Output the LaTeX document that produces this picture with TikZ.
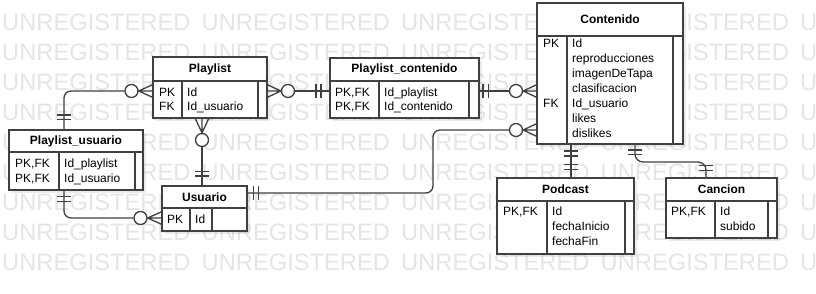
\documentclass[tikz,border=0pt]{standalone}
\usepackage{fontspec}
\setmainfont{Liberation Sans}
\usetikzlibrary{shadows}
\definecolor{linec}{RGB}{64,64,64}
\definecolor{wmark}{RGB}{229,229,229}
\begin{document}
\begin{tikzpicture}[x=1pt,y=-1pt,
  ln/.style={draw=linec,line width=1.3pt},
  tbl/.style={rectangle,draw=linec,line width=1.3pt,fill=white,inner sep=0pt,outer sep=0pt,anchor=north west,
    drop shadow={shadow xshift=3pt,shadow yshift=-3pt,fill=black,opacity=0.08}},
  hdr/.style={font=\fontsize{12}{14}\selectfont\bfseries,inner sep=0pt},
  fld/.style={font=\fontsize{12}{14}\selectfont,anchor=base west,inner sep=0pt},
  ring/.style={circle,draw=linec,line width=1.3pt,fill=white,minimum size=13pt,inner sep=0pt},
  wm/.style={font=\fontsize{23.7}{28}\selectfont,text=wmark,anchor=base west,inner sep=0pt}]

\useasboundingbox[fill=white] (0,0) rectangle (816,293);
\clip (0,0) rectangle (816,293);

% background watermark rows
\foreach \r in {0,...,8}{
  \foreach \c in {0,...,4}{
    \node[wm] (wm-\r-\c) at (2+199.5*\c, 30+30*\r) {UNREGISTERED};
  }
}

% ---------- tables ----------
\node[tbl,minimum width=114pt,minimum height=61pt] (playlist) at (153,57) {};
\node[tbl,minimum width=149pt,minimum height=60pt] (plcont) at (330,58) {};
\node[tbl,minimum width=146pt,minimum height=141pt] (contenido) at (537,3) {};
\node[tbl,minimum width=134pt,minimum height=60pt] (plusr) at (9,130) {};
\node[tbl,minimum width=85pt,minimum height=45pt] (usuario) at (162,186) {};
\node[tbl,minimum width=137pt,minimum height=76pt] (podcast) at (497,178) {};
\node[tbl,minimum width=111pt,minimum height=60pt] (cancion) at (666,178) {};

% header separators and column dividers
\draw[ln] (playlist.west |- 0,81) -- (playlist.east |- 0,81)
          (182,81) -- (playlist.south -| 182,0) (258,81) -- (playlist.south -| 258,0);
\draw[ln] (plcont.west |- 0,81) -- (plcont.east |- 0,81)
          (379,81) -- (plcont.south -| 379,0) (469,81) -- (plcont.south -| 469,0);
\draw[ln] (contenido.west |- 0,36) -- (contenido.east |- 0,36)
          (567,36) -- (contenido.south -| 567,0) (673,36) -- (contenido.south -| 673,0);
\draw[ln] (plusr.west |- 0,152) -- (plusr.east |- 0,152)
          (59,152) -- (plusr.south -| 59,0) (135,152) -- (plusr.south -| 135,0);
\draw[ln] (usuario.west |- 0,208) -- (usuario.east |- 0,208)
          (190,208) -- (usuario.south -| 190,0) (212,208) -- (usuario.south -| 212,0);
\draw[ln] (podcast.west |- 0,201) -- (podcast.east |- 0,201)
          (547,201) -- (podcast.south -| 547,0) (625,201) -- (podcast.south -| 625,0);
\draw[ln] (cancion.west |- 0,201) -- (cancion.east |- 0,201)
          (715,201) -- (cancion.south -| 715,0) (768,201) -- (cancion.south -| 768,0);

% headers
\node[hdr] (playlist-h) at (210,69) {Playlist};
\node[hdr] (plcont-h) at (404.5,69.5) {Playlist\_contenido};
\node[hdr] (contenido-h) at (610,19.5) {Contenido};
\node[hdr] (plusr-h) at (76,141) {Playlist\_usuario};
\node[hdr] (usuario-h) at (204.5,197) {Usuario};
\node[hdr] (podcast-h) at (565.5,189.5) {Podcast};
\node[hdr] (cancion-h) at (721.5,189.5) {Cancion};

% fields
\node[fld] (pl-k1) at (159,96) {PK};
\node[fld] (pl-k2) at (159,110.5) {FK};
\node[fld] (pl-a1) at (187,96) {Id};
\node[fld] (pl-a2) at (187,110.5) {Id\_usuario};

\node[fld] (pc-k1) at (335,96) {PK,FK};
\node[fld] (pc-k2) at (335,110.5) {PK,FK};
\node[fld] (pc-a1) at (384,96) {Id\_playlist};
\node[fld] (pc-a2) at (384,110.5) {Id\_contenido};

\node[fld] (co-k1) at (543,47) {PK};
\node[fld] (co-k2) at (543,107.3) {FK};
\foreach \t [count=\i from 0] in {Id,reproducciones,imagenDeTapa,clasificacion,Id\_usuario,likes,dislikes}{
  \node[fld] (co-a\i) at (572,47+15.05*\i) {\t};
}

\node[fld] (pu-k1) at (15,167.6) {PK,FK};
\node[fld] (pu-k2) at (15,182.6) {PK,FK};
\node[fld] (pu-a1) at (64,167.6) {Id\_playlist};
\node[fld] (pu-a2) at (64,182.6) {Id\_usuario};

\node[fld] (us-k1) at (167,223.5) {PK};
\node[fld] (us-a1) at (195,223.5) {Id};

\node[fld] (po-k1) at (503,215) {PK,FK};
\node[fld] (po-a1) at (552,215) {Id};
\node[fld] (po-a2) at (552,230.2) {fechaInicio};
\node[fld] (po-a3) at (552,245.4) {fechaFin};

\node[fld] (ca-k1) at (671,215) {PK,FK};
\node[fld] (ca-a1) at (720,215) {Id};
\node[fld] (ca-a2) at (720,230.2) {subido};

% ---------- relationships ----------
% Playlist_usuario -- Playlist
\node[ring] (r1) at (131.5,91) {};
\draw[ln,rounded corners=7] (r1.west) -| (plusr.north -| 64,0);
\draw[ln] (57,115) -- (71,115) (57,119.5) -- (71,119.5);
\draw[ln] (playlist.west |- 0,84.5) -- (r1.east) -- (playlist.west |- 0,97.5)
          (r1.east) -- (playlist.west |- r1);

% Playlist_usuario -- Usuario
\node[ring] (r2) at (140.5,218) {};
\draw[ln,rounded corners=7] (plusr.south -| 64,0) |- (r2.west);
\draw[ln] (57,196.5) -- (71,196.5) (57,201.5) -- (71,201.5);
\draw[ln] (usuario.west |- 0,211.5) -- (r2.east) -- (usuario.west |- 0,224.5)
          (r2.east) -- (usuario.west |- r2);

% Playlist -- Usuario
\node[ring] (r3) at (202,140) {};
\draw[ln] (r3.south) -- (usuario.north -| r3);
\draw[ln] (195,171.5) -- (209,171.5) (195,176) -- (209,176);
\draw[ln] (playlist.south -| 195,0) -- (r3.north) -- (playlist.south -| 209,0)
          (r3.north) -- (playlist.south -| r3);

% Playlist -- Playlist_contenido
\node[ring] (r4) at (288,91) {};
\draw[ln] (r4.east) -- (plcont.west |- r4);
\draw[ln] (316,84) -- (316,98) (321,84) -- (321,98);
\draw[ln] (playlist.east |- 0,84.5) -- (r4.west) -- (playlist.east |- 0,97.5)
          (r4.west) -- (playlist.east |- r4);

% Playlist_contenido -- Contenido
\node[ring] (r5) at (516,91) {};
\draw[ln] (plcont.east |- r5) -- (r5.west);
\draw[ln] (483,84) -- (483,98) (488.5,84) -- (488.5,98);
\draw[ln] (contenido.west |- 0,84.5) -- (r5.east) -- (contenido.west |- 0,97.5)
          (r5.east) -- (contenido.west |- r5);

% Usuario -- Contenido
\node[ring] (r6) at (516,130) {};
\draw[ln,rounded corners=7] (usuario.east |- 0,193) -| (433,130) -- (r6.west);
\draw[ln] (253.5,186) -- (253.5,200) (258.5,186) -- (258.5,200);
\draw[ln] (contenido.west |- 0,123.5) -- (r6.east) -- (contenido.west |- 0,136.5)
          (r6.east) -- (contenido.west |- r6);

% Contenido -- Podcast
\draw[ln] (contenido.south -| 571,0) -- (podcast.north -| 571,0);
\draw[ln] (564,151) -- (578,151) (564,156) -- (578,156)
          (564,164.5) -- (578,164.5) (564,169.5) -- (578,169.5);

% Contenido -- Cancion
\draw[ln,rounded corners=8] (contenido.south -| 635,0) -- (635,162) -- (706,162) -- (cancion.north -| 706,0);
\draw[ln] (628,150) -- (642,150) (628,154.5) -- (642,154.5)
          (699,165.5) -- (713,165.5) (699,170.5) -- (713,170.5);

\end{tikzpicture}
\end{document}
